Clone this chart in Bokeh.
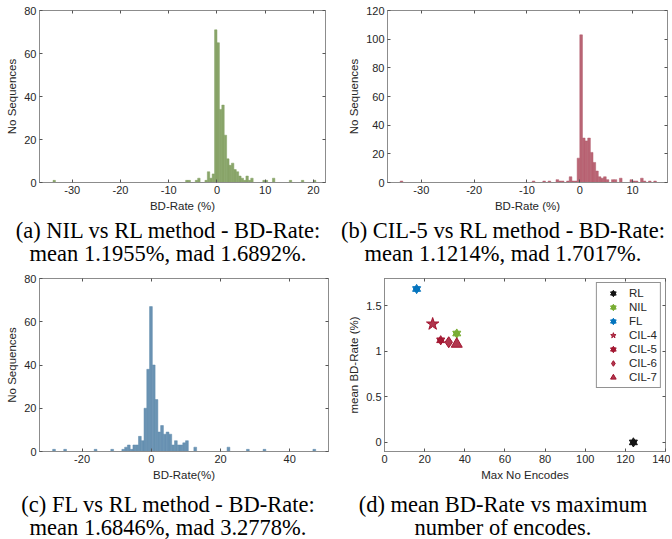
from bokeh.plotting import figure
from bokeh.layouts import column, row
from bokeh.models import Div, Range1d, LinearAxis, FixedTicker, CustomJSTickFormatter
from bokeh.embed import file_html
from bokeh.resources import INLINE

# ---------------- data ----------------
# (a) NIL vs RL : histogram bins (left edge, count), bin width 0.5
nil_bin_left = [-34.0, -6.5, -6.0, -4.5, -4.0, -2.5, -2.0, -1.5, -1.0, -0.5, 0.0, 0.5, 1.0, 1.5,
                2.0, 2.5, 3.0, 3.5, 4.0, 4.5, 5.0, 5.5, 6.0, 6.5, 7.0, 9.5, 10.0, 11.5, 15.0, 17.5, 20.0]
nil_counts = [1, 1, 1, 1, 2, 1, 5, 2, 4, 71, 65, 34, 36, 22,
              11, 8, 9, 6, 5, 3, 2, 1, 3, 1, 2, 1, 1, 2, 1, 1, 1]
nil_bin_width = 0.5

# (b) CIL-5 vs RL : bin width 0.5
cil5_bin_left = [-34.0, -9.0, -7.0, -6.0, -4.5, -4.0, -3.5, -2.5, -2.0, -1.5, -1.0, -0.5, 0.0, 0.5,
                 1.0, 1.5, 2.0, 2.5, 3.0, 3.5, 4.0, 4.5, 5.0, 6.0, 6.5, 7.5, 9.5, 10.0, 10.5, 11.5,
                 12.0, 13.0, 14.0]
cil5_counts = [1, 1, 1, 1, 2, 1, 1, 1, 4, 1, 1, 17, 103, 31,
               29, 31, 21, 14, 8, 4, 3, 4, 2, 2, 2, 3, 2, 1, 1, 3,
               1, 1, 1]
cil5_bin_width = 0.5

# (c) FL vs RL : bin centres, bin width 0.8
fl_bin_center = [-28.1, -24.9, -16.1, -11.3, -8.1, -7.3, -6.5, -5.7, -4.9, -4.1, -3.3, -2.5, -1.7,
                 -0.9, -0.1, 0.7, 1.5, 2.3, 3.1, 3.9, 4.7, 5.5, 6.3, 7.1, 7.9, 8.7, 9.5, 10.3,
                 12.7, 22.3, 27.9, 32.7, 47.1]
fl_counts = [1, 1, 1, 1, 1, 2, 3, 1, 3, 3, 7, 5, 20,
             38, 67, 40, 24, 9, 12, 8, 9, 8, 3, 5, 3, 3, 4, 5,
             2, 2, 1, 1, 1]
fl_bin_width = 0.8

# (d) mean BD-Rate vs max number of encodes
methods = ["RL", "NIL", "FL", "CIL-4", "CIL-5", "CIL-6", "CIL-7"]
max_encodes = [124, 36, 16, 24, 28, 32, 36]
mean_bd = [0.0, 1.1955, 1.6846, 1.30, 1.1214, 1.10, 1.08]

captions = [
    ("(a) NIL vs RL method - BD-Rate:", "mean 1.1955%, mad 1.6892%."),
    ("(b) CIL-5 vs RL method - BD-Rate:", "mean 1.1214%, mad 1.7017%."),
    ("(c) FL vs RL method - BD-Rate:", "mean 1.6846%, mad 3.2778%."),
    ("(d) mean BD-Rate vs maximum", "number of encodes."),
]

# ---------------- styling ----------------
FONT = "Liberation Sans"
TXT = "#262626"
AXC = "#8c8c8c"
TICKC = "#555555"
FMT = "return tick.toString();"


def make_fig(width, height, xr, yr, xticks, yticks, xlabel, ylabel, bl, br, bt, bb):
    p = figure(width=width, height=height, x_range=Range1d(*xr), y_range=Range1d(*yr),
               output_backend="svg", toolbar_location=None,
               min_border_left=bl, min_border_right=br, min_border_top=bt, min_border_bottom=bb)
    p.grid.visible = False
    p.outline_line_color = AXC
    p.outline_line_width = 1
    p.background_fill_color = "white"
    p.border_fill_color = "white"
    for ax, ticks, lab in ((p.xaxis[0], xticks, xlabel), (p.yaxis[0], yticks, ylabel)):
        ax.ticker = FixedTicker(ticks=ticks)
        ax.formatter = CustomJSTickFormatter(code=FMT)
        ax.axis_label = lab
        ax.axis_label_text_font = FONT
        ax.axis_label_text_font_size = "11.5px"
        ax.axis_label_text_font_style = "normal"
        ax.axis_label_text_color = TXT
        ax.axis_label_standoff = 3
        ax.major_label_text_font = FONT
        ax.major_label_text_font_size = "11px"
        ax.major_label_text_color = TXT
        ax.major_label_standoff = 3
        ax.axis_line_color = AXC
        ax.major_tick_in = 3
        ax.major_tick_out = 0
        ax.major_tick_line_color = TICKC
        ax.minor_tick_line_color = None
    # mirrored (unlabelled) ticks on the top and right sides, as in a boxed axes
    for side, ticks in (("above", xticks), ("right", yticks)):
        ax = LinearAxis(ticker=FixedTicker(ticks=ticks), major_label_text_font_size="0px",
                        major_label_text_color=None, axis_line_color=None,
                        major_tick_in=3, major_tick_out=0,
                        major_tick_line_color=TICKC, minor_tick_line_color=None,
                        major_label_standoff=0)
        p.add_layout(ax, side)
    return p


def caption_div(lines, width, height, pad):
    html = ("<div style=\"width:%dpx;text-align:center;font-family:'Liberation Serif';"
            "font-size:22.5px;line-height:23px;color:#000;padding-top:%dpx;white-space:nowrap;\">%s<br>%s</div>"
            % (width, pad, lines[0], lines[1]))
    return Div(text=html, width=width, height=height, margin=(0, 0, 0, 0))


# (a)
pa = make_fig(336, 214, (-36.8, 22.5), (0, 80), [-30, -20, -10, 0, 10, 20], [0, 20, 40, 60, 80],
              "BD-Rate (%)", "No Sequences", 39, 11, 10, 32)
pa.quad(left=nil_bin_left, right=[v + nil_bin_width for v in nil_bin_left], bottom=0, top=nil_counts,
        fill_color="#8AA56B", line_color="#80A060", line_width=0.5)

# (b)
pb = make_fig(334, 214, (-36.4, 16.6), (0, 120), [-30, -20, -10, 0, 10], [0, 20, 40, 60, 80, 100, 120],
              "BD-Rate (%)", "No Sequences", 51, 3, 10, 32)
pb.quad(left=cil5_bin_left, right=[v + cil5_bin_width for v in cil5_bin_left], bottom=0, top=cil5_counts,
        fill_color="#BA6575", line_color="#B05A6B", line_width=0.5)

# (c)
pc = make_fig(336, 215, (-32.3, 51.2), (0, 80), [-20, 0, 20, 40], [0, 20, 40, 60, 80],
              "BD-Rate(%)", "No Sequences", 39, 8, 10, 32)
pc.quad(left=[c - fl_bin_width / 2 for c in fl_bin_center], right=[c + fl_bin_width / 2 for c in fl_bin_center],
        bottom=0, top=fl_counts, fill_color="#6A93B3", line_color="#5F8AAC", line_width=0.5)

# (d)
pd_ = make_fig(334, 215, (0, 140), (-0.1, 1.8), [0, 20, 40, 60, 80, 100, 120, 140], [0, 0.5, 1, 1.5],
               "Max No Encodes", "mean BD-Rate (%)", 48, 5, 10, 32)
RED = "#A2142F"
styles = {
    "RL": ("hexagram", "#111111", 8),
    "NIL": ("hexagram", "#77AC30", 8),
    "FL": ("hexagram", "#0072BD", 8),
    "CIL-4": ("star", RED, 13),
    "CIL-5": ("hexagram", RED, 8),
    "CIL-6": ("diamond", RED, 11),
    "CIL-7": ("triangle", RED, 11),
}
for m, xv, yv in zip(methods, max_encodes, mean_bd):
    mk, col, sz = styles[m]
    kw = dict(size=sz, fill_color=col, fill_alpha=0.85, line_color=col, line_width=1, legend_label=m)
    if mk == "hexagram":
        pd_.scatter([xv], [yv], marker="triangle", **kw)
        pd_.scatter([xv], [yv], marker="inverted_triangle", **kw)
    else:
        pd_.scatter([xv], [yv], marker=mk, **kw)
lg = pd_.legend[0]
lg.location = "top_right"
lg.border_line_color = "#262626"
lg.border_line_width = 1
lg.label_text_font = FONT
lg.label_text_font_size = "11.5px"
lg.label_text_color = TXT
lg.glyph_height = 14
lg.glyph_width = 26
lg.label_height = 14
lg.spacing = 0
lg.padding = 3
lg.margin = 4
lg.label_standoff = 3

layout = column(
    row(pa, pb),
    row(caption_div(captions[0], 336, 54, 5), caption_div(captions[1], 334, 54, 5)),
    row(pc, pd_),
    row(caption_div(captions[2], 336, 54, 10), caption_div(captions[3], 334, 54, 10)),
)

open("out.html", "w").write(file_html(layout, INLINE))
